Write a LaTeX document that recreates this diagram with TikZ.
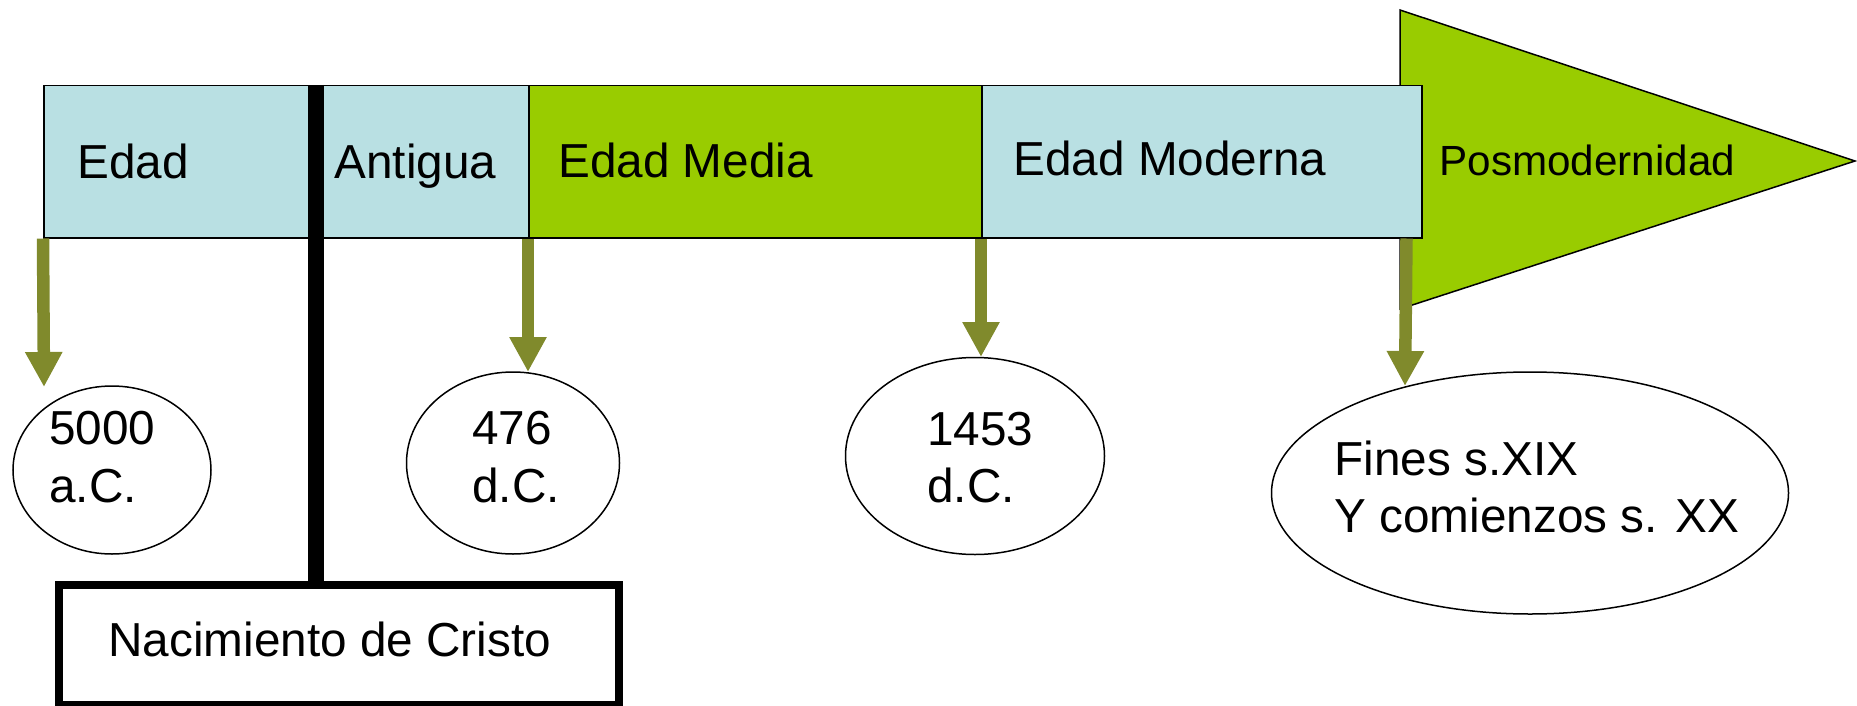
\documentclass[tikz,border=0pt]{standalone}
\usepackage{fontspec}
\setmainfont{Liberation Sans}
\usepackage{tikz}
\usetikzlibrary{arrows.meta, shapes.geometric}

\definecolor{ageblue}{RGB}{185,224,227}
\definecolor{agegreen}{RGB}{153,204,0}
\definecolor{arrowolive}{RGB}{128,138,44}

\begin{document}
\begin{tikzpicture}[x=0.5pt, y=-0.5pt,
    period/.style={draw, line width=0.75pt, anchor=north west, minimum height=76pt, inner sep=0pt},
    agelabel/.style={anchor=base west, inner sep=0pt, font=\fontsize{23.85pt}{28.75pt}\selectfont},
    datebox/.style={draw, ellipse, line width=0.75pt, inner sep=0pt},
    datetext/.style={anchor=west, align=left, inner sep=0pt, font=\fontsize{23.85pt}{28.75pt}\selectfont},
    datearrow/.style={draw=arrowolive, line width=6.25pt, -{Triangle[width=17.5pt, length=17.5pt]}}]
    \useasboundingbox (0, 0) rectangle (1857, 706);

    % Posmodernidad
    \draw[fill=agegreen, line width=0.75pt] (1400, 10) -- (1855, 161) -- (1400, 309) -- cycle;

    % Edades
    \node[period, fill=ageblue, minimum width=242.5pt] (antigua) at (43, 85) {};
    \node[period, fill=agegreen, minimum width=226.5pt] (media) at (528, 85) {};
    \node[period, fill=ageblue, minimum width=220pt] (moderna) at (981, 85) {};

    \node[agelabel] (l1) at (77, 178) {Edad};
    \node[agelabel] (l2) at (334, 178) {Antigua};
    \node[agelabel] (l3) at (558, 177) {Edad Media};
    \node[agelabel] (l4) at (1013, 175) {Edad Moderna};
    \node[agelabel, font=\fontsize{21.1pt}{25pt}\selectfont] (l5) at (1439, 175) {Posmodernidad};

    % Nacimiento de Cristo
    \coordinate (christ) at (316, 85);
    \node[draw, line width=4pt, minimum width=280.25pt, minimum height=60pt, inner sep=0pt,
          label={[font=\fontsize{23.85pt}{28.75pt}\selectfont, inner sep=0pt, xshift=-4.5pt, yshift=2.75pt]center:Nacimiento de Cristo}]
          (cristo) at (338.75, 645) {};
    \draw[line width=8pt] (christ) -- (christ |- cristo.north);

    % Fechas
    \node[datebox, minimum width=99pt, minimum height=84pt] (d1) at (112, 470) {};
    \node[datebox, minimum width=106.5pt, minimum height=91pt] (d2) at (513, 463) {};
    \node[datebox, minimum width=129.5pt, minimum height=98.5pt] (d3) at (975, 456) {};
    \node[datebox, minimum width=258.5pt, minimum height=121pt] (d4) at (1530, 493) {};

    \node[datetext] (t1) at (49, 457) {5000\\a.C.};
    \node[datetext] (t2) at (472, 457) {476\\d.C.};
    \node[datetext] (t3) at (927, 457.5) {1453\\d.C.};
    \node[datetext] (t4) at (1334, 487) {Fines s.XIX\\Y comienzos s. XX};

    % Flechas
    \coordinate (tip1) at (44, 387);
    \coordinate (tip2) at (528, 372);
    \coordinate (tip3) at (981, 357);
    \coordinate (tip4) at (1405, 386);
    \draw[datearrow] (antigua.south west) -- (tip1);
    \draw[datearrow] (media.south west) -- (tip2);
    \draw[datearrow] (moderna.south west) -- (tip3);
    \draw[datearrow] ([xshift=-8pt]moderna.south east) -- (tip4);
\end{tikzpicture}
\end{document}
